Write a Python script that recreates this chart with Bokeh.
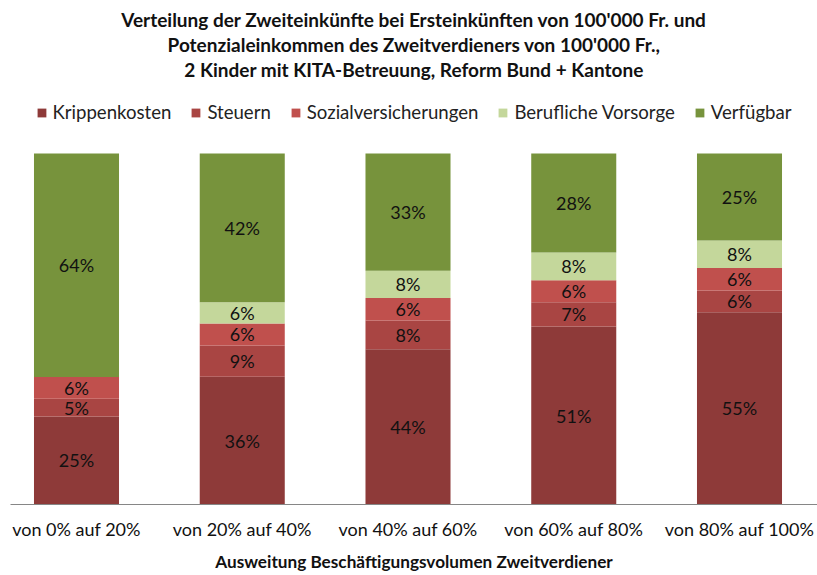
from bokeh.plotting import figure
from bokeh.models import ColumnDataSource, Legend, LegendItem, Title, FixedTicker, Range1d
from bokeh.core.properties import value
from bokeh.embed import file_html
from bokeh.resources import INLINE

# ---- data ----
categories = ["von 0% auf 20%", "von 20% auf 40%", "von 40% auf 60%",
              "von 60% auf 80%", "von 80% auf 100%"]
krippenkosten = [25.1, 36.4, 44.2, 50.7, 54.8]
steuern = [5.0, 8.9, 8.2, 6.9, 6.2]
sozialversicherungen = [6.2, 6.3, 6.4, 6.3, 6.4]
berufliche_vorsorge = [0.0, 6.0, 7.8, 7.9, 7.8]
verfuegbar = [63.7, 42.4, 33.4, 28.2, 24.8]
series_names = ["Krippenkosten", "Steuern", "Sozialversicherungen",
                "Berufliche Vorsorge", "Verfügbar"]
title_lines = [
    "Verteilung der Zweiteinkünfte bei Ersteinkünften von 100'000 Fr. und",
    "Potenzialeinkommen des Zweitverdieners von 100'000 Fr.,",
    "2 Kinder mit KITA-Betreuung, Reform Bund + Kantone",
]
x_title = "Ausweitung Beschäftigungsvolumen Zweitverdiener"

# ---- styles ----
colors = ["#8E3A39", "#A94543", "#C0504D", "#C4D79B", "#77933C"]
FONT = "Lato"
keys = ["s0", "s1", "s2", "s3", "s4"]
series = [krippenkosten, steuern, sozialversicherungen, berufliche_vorsorge, verfuegbar]

xs = list(range(len(categories)))
data = {"x": xs}
for k, s in zip(keys, series):
    data[k] = s
source = ColumnDataSource(data)

p = figure(width=817, height=575, output_backend="svg", toolbar_location=None,
           x_range=Range1d(-0.3982, 4.4706), y_range=Range1d(0, 120.8),
           y_axis_location=None, title=None,
           min_border_left=10, min_border_right=0, min_border_top=80, min_border_bottom=71)
p.outline_line_color = None
p.xgrid.visible = False
p.ygrid.visible = False

renderers = p.vbar_stack(keys, x="x", width=0.513, color=colors, line_color=None, source=source)

# data labels
lx, ly, lt = [], [], []
for i in xs:
    base = 0.0
    for s in series:
        v = s[i]
        if v > 0:
            lx.append(i)
            ly.append(base + v / 2.0)
            lt.append(f"{round(v)}%")
        base += v
p.text(x=lx, y=ly, text=lt, text_align="center", text_baseline="middle",
       text_font=value(FONT), text_font_size="18px", text_color="#111111")

# x axis
ax = p.xaxis[0]
ax.ticker = FixedTicker(ticks=xs)
ax.major_label_overrides = {i: c for i, c in zip(xs, categories)}
ax.major_tick_line_color = None
ax.minor_tick_line_color = None
ax.axis_line_color = "#868686"
ax.major_label_text_font = FONT
ax.major_label_text_font_size = "18px"
ax.major_label_text_color = "#111111"
ax.major_label_standoff = 7
ax.axis_label = x_title
ax.axis_label_text_font = FONT
ax.axis_label_text_font_size = "17.2px"
ax.axis_label_text_font_style = "bold"
ax.axis_label_text_color = "#111111"
ax.axis_label_standoff = 8

# legend (inside the frame, above the bars)
legend = Legend(items=[LegendItem(label=n, renderers=[r]) for n, r in zip(series_names, renderers)],
                orientation="horizontal", location="top_center",
                glyph_width=11, glyph_height=11, label_standoff=6, spacing=19,
                padding=0, margin=21, label_height=20,
                label_text_font=FONT, label_text_font_size="18.6px", label_text_color="#222222",
                border_line_color=None, background_fill_alpha=0)
p.add_layout(legend, "center")

# title lines, added bottom line first so it sits closest to the plot
for line in reversed(title_lines):
    p.add_layout(Title(text=line, align="center", text_font=FONT, text_font_size="19px",
                       text_font_style="bold", text_color="#111111", standoff=0), "above")

open("out.html", "w").write(file_html(p, INLINE))
